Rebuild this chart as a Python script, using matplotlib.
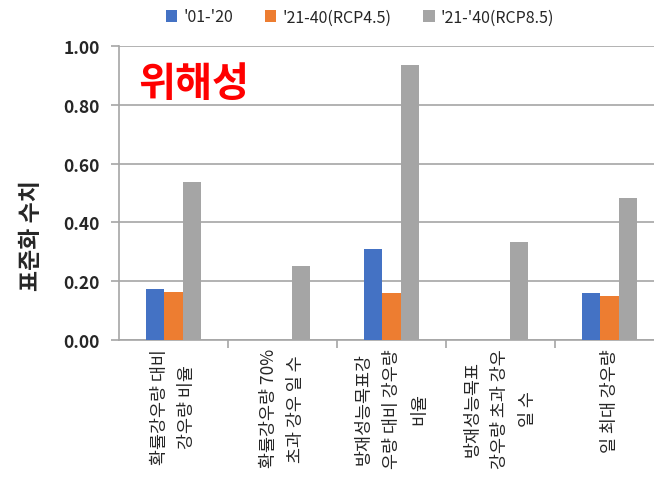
import matplotlib
matplotlib.use("Agg")
import matplotlib.pyplot as plt
import numpy as np

plt.rcParams['font.family'] = ['Noto Sans CJK KR', 'DejaVu Sans']

categories = [
    "확률강우량 대비\n강우량 비율",
    "확률강우량 70%\n초과 강우 일 수",
    "방재성능목표강\n우량 대비 강우량\n비율",
    "방재성능목표\n강우량 초과 강우\n일 수",
    "일 최대 강우량",
]
series_names = ["'01-'20", "'21-40(RCP4.5)", "'21-'40(RCP8.5)"]
hist_01_20 = [0.175, 0.0, 0.309, 0.0, 0.159]
rcp45_21_40 = [0.163, 0.0, 0.159, 0.0, 0.148]
rcp85_21_40 = [0.539, 0.252, 0.935, 0.335, 0.482]
yticks = [0.0, 0.2, 0.4, 0.6, 0.8, 1.0]

colors = ["#4472C4", "#ED7D31", "#A5A5A5"]
grid_color = "#A6A6A6"

fig = plt.figure(figsize=(6.54, 4.81), dpi=100)
ax = fig.add_axes([119 / 654, 1 - 341 / 481, (664 - 119) / 654, (341 - 47) / 481])

x = np.arange(len(categories))
w = 0.17
for i, (vals, name, c) in enumerate(zip([hist_01_20, rcp45_21_40, rcp85_21_40], series_names, colors)):
    ax.bar(x + (i - 1) * w, vals, width=w, color=c, label=name, zorder=3)

ax.set_xlim(-0.5, len(categories) - 0.5)
ax.set_ylim(0, 1.0)
ax.set_yticks(yticks)
ax.set_yticklabels([f"{v:.2f}" for v in yticks], fontsize=12.5, fontweight='bold', color="#262626")
ax.yaxis.grid(True, color=grid_color, linewidth=1.2, zorder=0)
ax.set_axisbelow(True)

for s in ['top', 'right']:
    ax.spines[s].set_visible(False)
for s in ['left', 'bottom']:
    ax.spines[s].set_color(grid_color)
    ax.spines[s].set_linewidth(1.2)

ax.tick_params(axis='y', length=6, color=grid_color, width=1.2, pad=8)
ax.set_xticks(x)
ax.set_xticklabels(categories, rotation=90, fontsize=12.5, color="#262626",
                   multialignment='center', linespacing=1.7)
ax.tick_params(axis='x', which='major', length=0, pad=6)
ax.set_xticks(np.arange(0.5, len(categories) - 0.5, 1), minor=True)
ax.tick_params(axis='x', which='minor', length=6, color=grid_color, width=1.2)

ax.set_ylabel("표준화 수치", fontsize=16.5, fontweight='bold', color="#262626")
ax.yaxis.set_label_coords(-0.139, 0.36)

ax.text(0.035, 0.871, "위해성", transform=ax.transAxes, color="#FF0000",
        fontsize=29, fontweight='bold', va='center', ha='left')

fig.legend(loc='center', bbox_to_anchor=(360 / 654, 1 - 18 / 481), ncol=3, frameon=False,
           fontsize=11.5, handlelength=0.7, handleheight=0.7, handletextpad=0.4,
           columnspacing=2.0, labelcolor="#262626")

fig.savefig("out.png", dpi=100)
